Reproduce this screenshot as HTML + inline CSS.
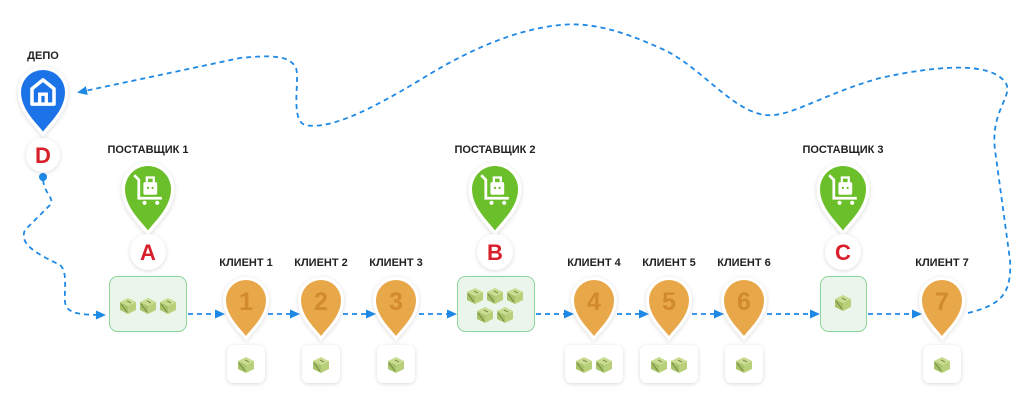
<!DOCTYPE html>
<html><head><meta charset="utf-8"><style>
html,body{margin:0;padding:0;background:#fff;}
svg{display:block;}
text{font-family:"Liberation Sans",sans-serif;font-weight:bold;}
</style></head><body>
<svg width="1024" height="408" viewBox="0 0 1024 408" xmlns="http://www.w3.org/2000/svg">
<defs>
<filter id="sh" x="-50%" y="-50%" width="200%" height="200%"><feDropShadow dx="0" dy="1" stdDeviation="2" flood-color="#000" flood-opacity="0.15"/></filter>
<marker id="ar" markerWidth="10" markerHeight="10" refX="7" refY="5" orient="auto" markerUnits="userSpaceOnUse"><path d="M0,0.5 L10,5 L0,9.5 Z" fill="#1e88e5"/></marker>
<path id="pin" d="M0,36 C-6,28 -20,16 -20,0 A20,20 0 1 1 20,0 C20,16 6,28 0,36 Z"/>
<g id="cube">
<path d="M0,-7 L8,-3 L0,1 L-8,-3 Z" fill="#c9dc8f"/>
<path d="M-8,-3 L0,1 L0,9 L-8,5 Z" fill="#a8c26a"/>
<path d="M8,-3 L0,1 L0,9 L8,5 Z" fill="#b9d07a"/>
<path d="M-7,-1 L-1,7" stroke="#6b7d3e" stroke-width="0.8"/>
<path d="M-1,-4 L3,-2" stroke="#6b7d3e" stroke-width="0.8"/>
</g>
</defs>

<!-- dashed connectors -->
<g fill="none" stroke="#1e88e5" stroke-width="1.8" stroke-dasharray="5,4">
<path d="M968,313 C1000,305 1012,295 1010,260 L995,150 C990,110 1015,95 1005,82 C990,62 940,65 880,78 C820,95 790,118 765,115 C730,110 700,65 660,48 C620,30 590,22 560,25 C510,30 460,55 420,80 C370,110 330,130 305,125 C290,120 300,80 296,68 C290,55 270,55 240,58 L80,92" marker-end="url(#ar)"/>
<path d="M43,180 C45,195 55,198 50,205 L25,230 C18,245 40,255 60,265 C68,272 64,290 65,302 C66,312 75,315 103,315" marker-end="url(#ar)"/>
<path d="M188,314 L222,314" marker-end="url(#ar)"/>
<path d="M268,314 L297,314" marker-end="url(#ar)"/>
<path d="M343,314 L373,314" marker-end="url(#ar)"/>
<path d="M419,314 L454,314" marker-end="url(#ar)"/>
<path d="M536,314 L571,314" marker-end="url(#ar)"/>
<path d="M617,314 L646,314" marker-end="url(#ar)"/>
<path d="M692,314 L721,314" marker-end="url(#ar)"/>
<path d="M767,314 L817,314" marker-end="url(#ar)"/>
<path d="M868,314 L919,314" marker-end="url(#ar)"/>
</g>
<circle cx="43" cy="177" r="4" fill="#1e88e5"/>

<!-- Depot -->
<text x="43" y="59" font-size="11" text-anchor="middle" fill="#222">ДЕПО</text>
<g transform="translate(43,92) scale(1.1)" filter="url(#sh)">
<use href="#pin" fill="#fff" stroke="#fff" stroke-width="6"/>
<use href="#pin" fill="#1a73e8"/>
<path d="M-10,11 L-10,-3 L0,-11 L10,-3 L10,11 Z" fill="none" stroke="#fff" stroke-width="3.2" stroke-linejoin="round"/>
<path d="M-3,11 L-3,2 L3,2 L3,11" fill="none" stroke="#fff" stroke-width="3"/>
</g>
<circle cx="43" cy="155" r="17" fill="#fff" filter="url(#sh)"/>
<text x="43" y="163" font-size="22" text-anchor="middle" fill="#d81f2a">D</text>

<text x="148" y="153" font-size="11" text-anchor="middle" fill="#222">ПОСТАВЩИК 1</text>
<text x="495" y="153" font-size="11" text-anchor="middle" fill="#222">ПОСТАВЩИК 2</text>
<text x="843" y="153" font-size="11" text-anchor="middle" fill="#222">ПОСТАВЩИК 3</text>

<g id="gp">
<g transform="translate(148,189) scale(1.15)" filter="url(#sh)">
<use href="#pin" fill="#fff" stroke="#fff" stroke-width="6"/>
<use href="#pin" fill="#6bbf2a"/>
<path d="M-12,-12 L-8,-8 L-8,8 L12,8" fill="none" stroke="#fff" stroke-width="2.4"/>
<rect x="-4" y="-6" width="12" height="11" rx="1.5" fill="#fff"/>
<path d="M-1,-6 L-1,-10 L5,-10 L5,-6" fill="none" stroke="#fff" stroke-width="2"/>
<circle cx="-3" cy="12" r="1.8" fill="#fff"/><circle cx="8" cy="12" r="1.8" fill="#fff"/>
<circle cx="0" cy="-1" r="1" fill="#6bbf2a"/><circle cx="4" cy="-1" r="1" fill="#6bbf2a"/>
</g>
</g>
<use href="#gp" transform="translate(347,0)"/>
<use href="#gp" transform="translate(695,0)"/>

<g font-size="22" text-anchor="middle" fill="#d81f2a">
<circle cx="148" cy="252" r="18" fill="#fff" filter="url(#sh)"/><text x="148" y="260">A</text>
<circle cx="495" cy="252" r="18" fill="#fff" filter="url(#sh)"/><text x="495" y="260">B</text>
<circle cx="843" cy="252" r="18" fill="#fff" filter="url(#sh)"/><text x="843" y="260">C</text>
</g>

<!-- supplier boxes -->
<rect x="109.5" y="276.5" width="77" height="55" rx="8" fill="#eaf6ec" stroke="#8fd49a"/>
<rect x="457.5" y="276.5" width="77" height="55" rx="8" fill="#eaf6ec" stroke="#8fd49a"/>
<rect x="820.5" y="276.5" width="46" height="55" rx="8" fill="#eaf6ec" stroke="#8fd49a"/>
<use href="#cube" x="128" y="305"/><use href="#cube" x="148" y="305"/><use href="#cube" x="168" y="305"/>
<use href="#cube" x="475" y="295"/><use href="#cube" x="495" y="295"/><use href="#cube" x="515" y="295"/>
<use href="#cube" x="485" y="314"/><use href="#cube" x="505" y="314"/>
<use href="#cube" x="843" y="302"/>

<!-- Clients -->
<g font-size="11" text-anchor="middle" fill="#222">
<text x="246" y="266">КЛИЕНТ 1</text>
<text x="321" y="266">КЛИЕНТ 2</text>
<text x="396" y="266">КЛИЕНТ 3</text>
<text x="594" y="266">КЛИЕНТ 4</text>
<text x="669" y="266">КЛИЕНТ 5</text>
<text x="744" y="266">КЛИЕНТ 6</text>
<text x="942" y="266">КЛИЕНТ 7</text>
</g>
<g id="cp">
<g transform="translate(246,300)" filter="url(#sh)">
<use href="#pin" fill="#fff" stroke="#fff" stroke-width="6"/>
<use href="#pin" fill="#e8a748"/>
</g>
</g>
<use href="#cp" transform="translate(75,0)"/>
<use href="#cp" transform="translate(150,0)"/>
<use href="#cp" transform="translate(348,0)"/>
<use href="#cp" transform="translate(423,0)"/>
<use href="#cp" transform="translate(498,0)"/>
<use href="#cp" transform="translate(696,0)"/>
<g font-size="25" text-anchor="middle" fill="#d18a2e">
<text x="246" y="310">1</text><text x="321" y="310">2</text><text x="396" y="310">3</text>
<text x="594" y="310">4</text><text x="669" y="310">5</text><text x="744" y="310">6</text>
<text x="942" y="310">7</text>
</g>

<!-- client boxes -->
<g fill="#fff" filter="url(#sh)">
<rect x="227" y="345" width="38" height="38" rx="7"/>
<rect x="302" y="345" width="38" height="38" rx="7"/>
<rect x="377" y="345" width="38" height="38" rx="7"/>
<rect x="565" y="345" width="58" height="38" rx="7"/>
<rect x="640" y="345" width="58" height="38" rx="7"/>
<rect x="725" y="345" width="38" height="38" rx="7"/>
<rect x="923" y="345" width="38" height="38" rx="7"/>
</g>
<use href="#cube" x="246" y="364"/><use href="#cube" x="321" y="364"/><use href="#cube" x="396" y="364"/>
<use href="#cube" x="584" y="364"/><use href="#cube" x="604" y="364"/>
<use href="#cube" x="659" y="364"/><use href="#cube" x="679" y="364"/>
<use href="#cube" x="744" y="364"/><use href="#cube" x="942" y="364"/>
</svg>
</body></html>
